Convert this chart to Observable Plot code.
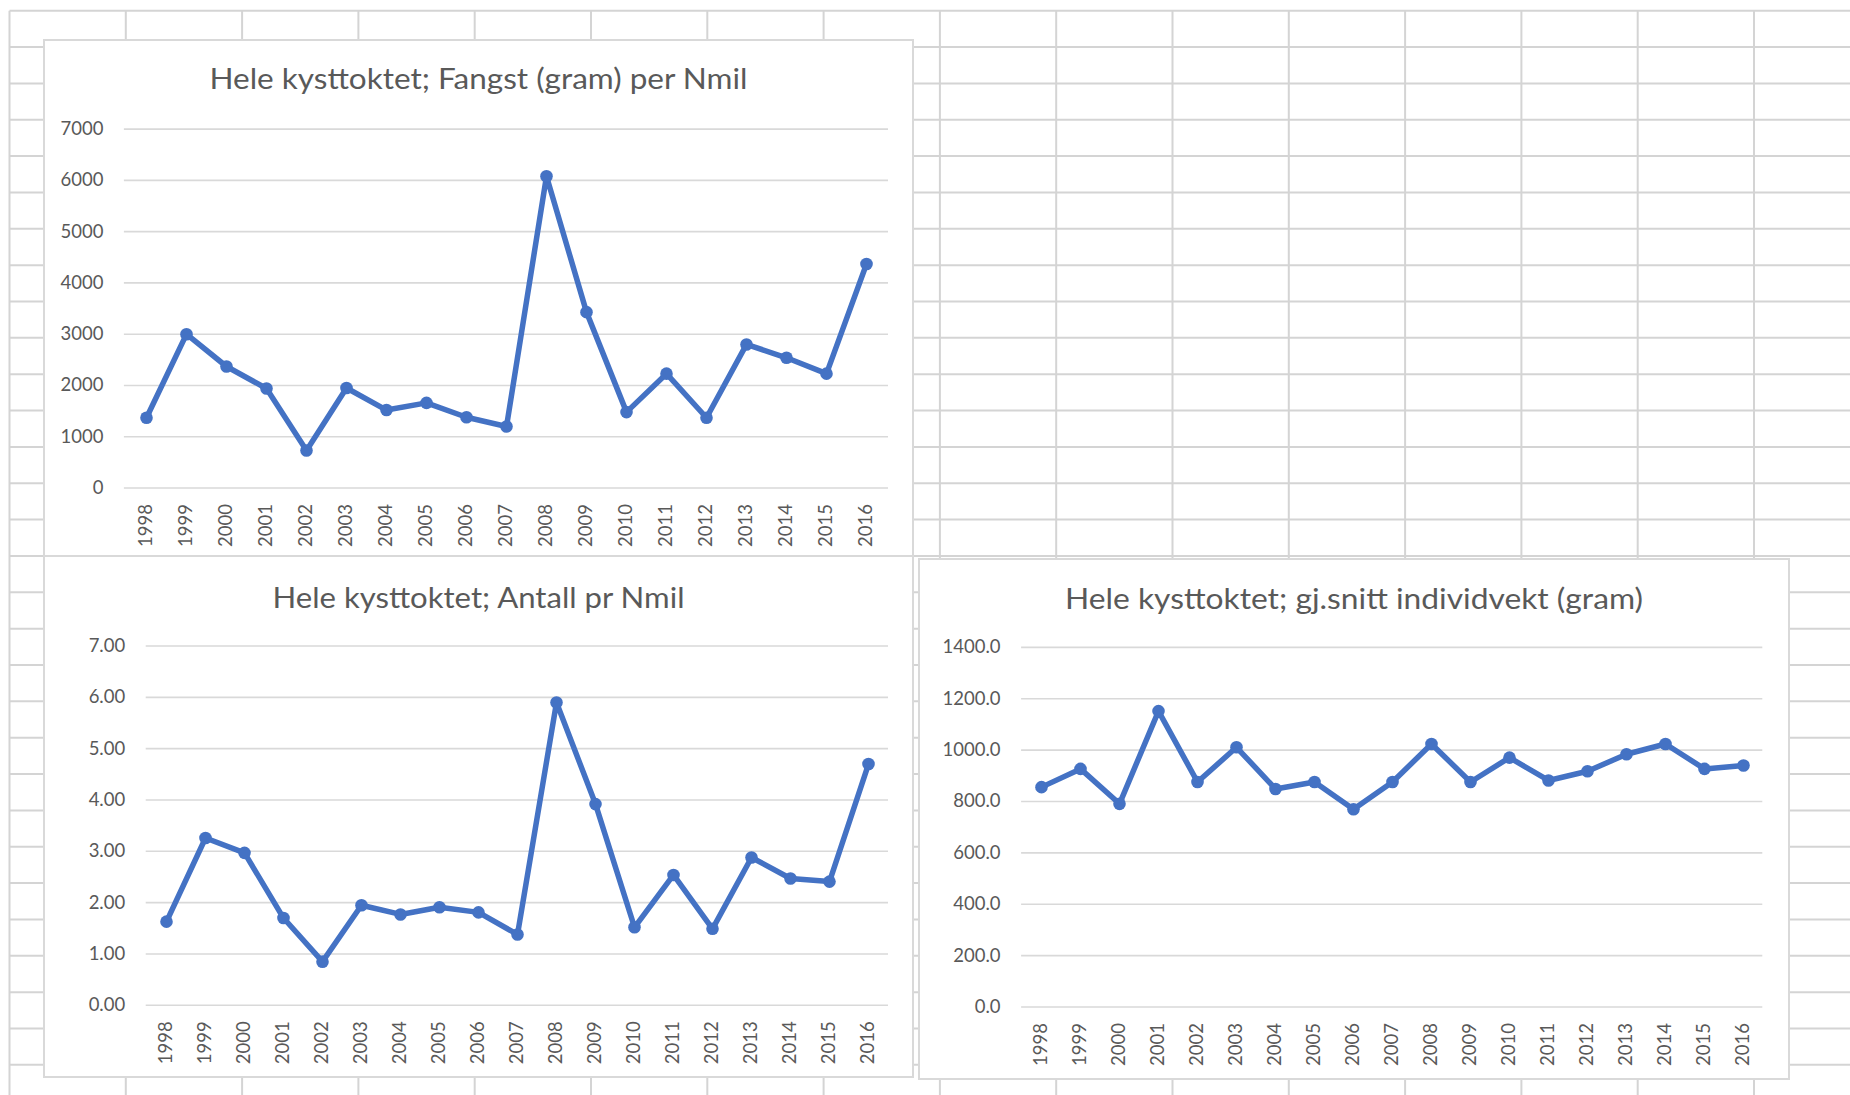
<!DOCTYPE html>
<html><head><meta charset="utf-8">
<script src="https://cdn.jsdelivr.net/npm/d3@7"></script>
<script src="https://cdn.jsdelivr.net/npm/@observablehq/plot@0.6"></script>
<style>
html,body{margin:0;padding:0;background:#fff;width:1850px;height:1095px;overflow:hidden;font-family:Lato,sans-serif;}
#sheet{position:absolute;left:0;top:0;}
.box{position:absolute;background:#fff;border:2px solid #d9d9d9;box-sizing:border-box;}
.chart{position:absolute;}
.chart svg{display:block;overflow:visible;}
</style></head><body>
<svg id="sheet" width="1850" height="1095"></svg>
<div class="box" style="left:43px;top:39px;width:871px;height:518px"></div>
<div class="box" style="left:43px;top:555px;width:871px;height:523px"></div>
<div class="box" style="left:918px;top:558px;width:872px;height:522px"></div>
<div id="c1" class="chart" style="left:43px;top:39px"></div>
<div id="c2" class="chart" style="left:43px;top:555px"></div>
<div id="c3" class="chart" style="left:918px;top:558px"></div>
<script>
// ---- data ----
const years = [1998,1999,2000,2001,2002,2003,2004,2005,2006,2007,2008,2009,2010,2011,2012,2013,2014,2015,2016];
const fangst = [1370,3000,2370,1940,730,1950,1520,1660,1380,1200,6080,3430,1480,2230,1370,2800,2540,2230,4370];
const antall = [1.63,3.26,2.97,1.70,0.85,1.95,1.77,1.91,1.81,1.38,5.90,3.92,1.52,2.54,1.49,2.88,2.47,2.41,4.70];
const vekt = [856,927,791,1152,876,1011,849,876,770,876,1024,876,971,882,918,984,1024,927,940];
const fangstTicks = [0,1000,2000,3000,4000,5000,6000,7000];
const antallTicks = [0,1,2,3,4,5,6,7];
const vektTicks = [0,200,400,600,800,1000,1200,1400];
const titles = [
  "Hele kysttoktet; Fangst (gram) per Nmil",
  "Hele kysttoktet; Antall pr Nmil",
  "Hele kysttoktet; gj.snitt individvekt (gram)"
];

// ---- spreadsheet background grid ----
const sheet = d3.select("#sheet");
const colX = d3.range(16).map(i => 9.5 + i * 116.3);
const rowY = d3.range(31).map(i => 10.7 + i * 36.35);
sheet.selectAll("line.v").data(colX).join("line")
  .attr("x1", d => d).attr("x2", d => d).attr("y1", 10.7).attr("y2", 1095)
  .attr("stroke", "#d4d4d4").attr("stroke-width", 2);
sheet.selectAll("line.h").data(rowY).join("line")
  .attr("y1", d => d).attr("y2", d => d).attr("x1", 9.5).attr("x2", 1850)
  .attr("stroke", "#d4d4d4").attr("stroke-width", 2);

const BLUE = "#4472C4";
const GRAY = "#595959";

function makeChart(el, values, ticks, fmt, title, dims) {
  const data = years.map((y, i) => ({year: String(y), v: values[i]}));
  const plot = Plot.plot({
    width: dims.w, height: dims.h,
    marginLeft: dims.ml, marginRight: dims.mr, marginTop: dims.mt, marginBottom: dims.mb,
    style: {fontFamily: "Lato, sans-serif", fontSize: "18.5px", color: GRAY, background: "transparent", overflow: "visible"},
    x: {type: "point", domain: years.map(String), padding: 0.5},
    y: {domain: [ticks[0], ticks[ticks.length - 1]]},
    marks: [
      Plot.gridY(ticks, {stroke: "#d9d9d9", strokeOpacity: 1, strokeWidth: 1.6}),
      Plot.axisY(ticks, {tickSize: 0, tickPadding: 21, tickFormat: fmt, fill: GRAY, label: null}),
      Plot.axisX({tickRotate: -90, tickSize: 0, tickPadding: 16, fill: GRAY, label: null}),
      Plot.line(data, {x: "year", y: "v", stroke: BLUE, strokeWidth: 5.5, strokeLinejoin: "round", strokeLinecap: "round"}),
      Plot.dot(data, {x: "year", y: "v", r: 6.3, fill: BLUE, stroke: null})
    ]
  });
  d3.select(plot).append("text")
    .attr("x", dims.w / 2).attr("y", dims.ty)
    .attr("text-anchor", "middle")
    .attr("fill", GRAY)
    .attr("textLength", dims.tw)
    .attr("lengthAdjust", "spacingAndGlyphs")
    .style("font-family", "Lato, sans-serif")
    .style("font-size", "29px")
    .text(title);
  document.getElementById(el).appendChild(plot);
}

makeChart("c1", fangst, fangstTicks, d => String(d), titles[0],
  {w: 871, h: 518, ml: 80.9, mr: 26, mt: 89.6, mb: 69.5, ty: 50.3, tw: 538});
makeChart("c2", antall, antallTicks, d3.format(".2f"), titles[1],
  {w: 871, h: 523, ml: 102.7, mr: 26, mt: 90.5, mb: 73.2, ty: 53, tw: 412});
makeChart("c3", vekt, vektTicks, d3.format(".1f"), titles[2],
  {w: 872, h: 522, ml: 103.1, mr: 27.7, mt: 88.9, mb: 73.5, ty: 51, tw: 578});
</script>
</body></html>
